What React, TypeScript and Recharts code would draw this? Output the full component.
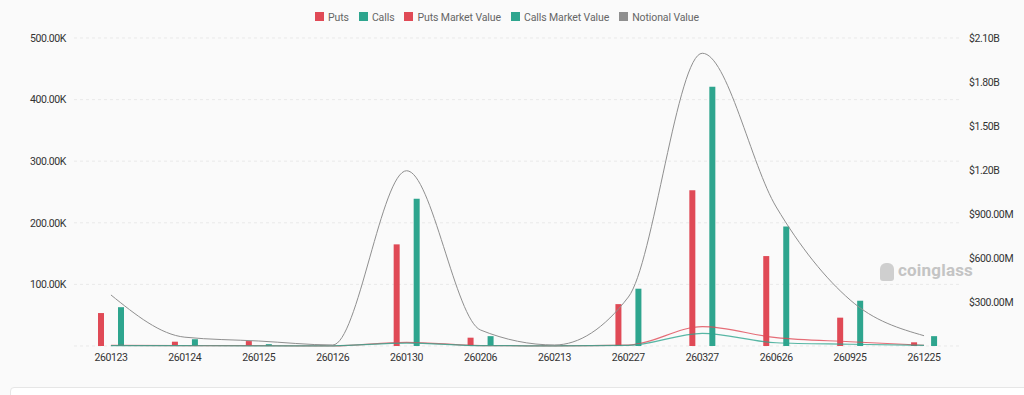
import { ComposedChart, Bar, Line, XAxis, YAxis, CartesianGrid, Legend } from 'recharts'

const expiries = ['260123', '260124', '260125', '260126', '260130', '260206', '260213', '260227', '260327', '260626', '260925', '261225']
const puts = [53500, 7000, 8000, 600, 165000, 13500, 600, 68000, 253000, 146000, 46000, 6000]
const calls = [63000, 11000, 3000, 800, 239000, 16000, 800, 93000, 421000, 194000, 73500, 16000]
const putsMarketValue = [4e6, 2e6, 2e6, 1e6, 25e6, 3e6, 1e6, 6e6, 132e6, 57e6, 29e6, 5e6]
const callsMarketValue = [3e6, 2e6, 1e6, 1e6, 20e6, 3e6, 1e6, 4e6, 86e6, 22e6, 12e6, 4e6]
const notionalValue = [348e6, 60e6, 34e6, 7e6, 1195e6, 109e6, 7e6, 334e6, 1996e6, 948e6, 314e6, 70e6]

const leftTicks = [0, 100000, 200000, 300000, 400000, 500000]
const rightTicks = [0, 3e8, 6e8, 9e8, 12e8, 15e8, 18e8, 21e8]
const legendOrder = ['Puts', 'Calls', 'Puts Market Value', 'Calls Market Value', 'Notional Value']

const RED = '#e04a56'
const TEAL = '#2ea58e'
const GREY = '#8f8f8f'

const data = expiries.map((e, i) => ({
  expiry: e,
  puts: puts[i],
  calls: calls[i],
  putsMv: putsMarketValue[i],
  callsMv: callsMarketValue[i],
  notional: notionalValue[i],
}))

const fmtLeft = (v: number) => (v === 0 ? '' : `${(v / 1000).toFixed(2)}K`)
const fmtRight = (v: number) => {
  if (v === 0) return ''
  if (v >= 1e9) return `$${(v / 1e9).toFixed(2)}B`
  return `$${(v / 1e6).toFixed(2)}M`
}

const FONT = 'Roboto, "Noto Sans", sans-serif'

export default function App() {
  const tick = { fill: '#333', fontSize: 10.5, fontFamily: FONT, letterSpacing: -0.4 }
  return (
    <div style={{ position: 'absolute', left: 0, top: 0, width: 1024, height: 395, background: '#fafafa', overflow: 'hidden', fontFamily: FONT }}>
      <ComposedChart width={1024} height={385} data={data} margin={{ top: 6, right: 0, bottom: 9, left: 0 }} barSize={6} barGap={14}>
        <CartesianGrid vertical={false} stroke="#e9e9e9" strokeDasharray="3 3" yAxisId="left" />
        <Legend
          verticalAlign="top"
          height={32}
          iconType="square"
          iconSize={9}
          itemSorter={(item: any) => legendOrder.indexOf(item.value)}
          formatter={(value) => <span style={{ color: '#666', fontSize: 10.5, letterSpacing: -0.1 }}>{value}</span>}
        />
        <XAxis dataKey="expiry" tick={tick} tickLine={false} axisLine={false} height={30} interval={0} />
        <YAxis yAxisId="left" width={74} domain={[0, 500000]} ticks={leftTicks} tickFormatter={fmtLeft} tick={tick} tickLine={false} axisLine={false} />
        <YAxis yAxisId="right" orientation="right" width={63} domain={[0, 2.1e9]} ticks={rightTicks} tickFormatter={fmtRight} tick={tick} tickLine={false} axisLine={false} />
        <Bar yAxisId="left" dataKey="puts" name="Puts" fill={RED} isAnimationActive={false} />
        <Bar yAxisId="left" dataKey="calls" name="Calls" fill={TEAL} isAnimationActive={false} />
        <Line yAxisId="right" type="monotone" dataKey="putsMv" name="Puts Market Value" stroke={RED} strokeOpacity={0.8} strokeWidth={1.2} dot={false} legendType="square" isAnimationActive={false} />
        <Line yAxisId="right" type="monotone" dataKey="callsMv" name="Calls Market Value" stroke={TEAL} strokeOpacity={0.8} strokeWidth={1.2} dot={false} legendType="square" isAnimationActive={false} />
        <Line yAxisId="right" type="monotone" dataKey="notional" name="Notional Value" stroke={GREY} strokeWidth={1} dot={false} legendType="square" isAnimationActive={false} />
      </ComposedChart>
      <div style={{ position: 'absolute', left: 880, top: 260, color: '#c4c4c4', fontSize: 17, fontWeight: 700, letterSpacing: 0.2 }}>
        <span style={{ display: 'inline-block', width: 14, height: 18, background: '#cfcfcf', borderRadius: '6px 6px 3px 3px', marginRight: 4, verticalAlign: 'middle' }} />
        coinglass
      </div>
      <div style={{ position: 'absolute', left: 10, top: 387, width: 1020, height: 30, background: '#fff', border: '1px solid #e6e6e6', borderRadius: 4 }} />
    </div>
  )
}
